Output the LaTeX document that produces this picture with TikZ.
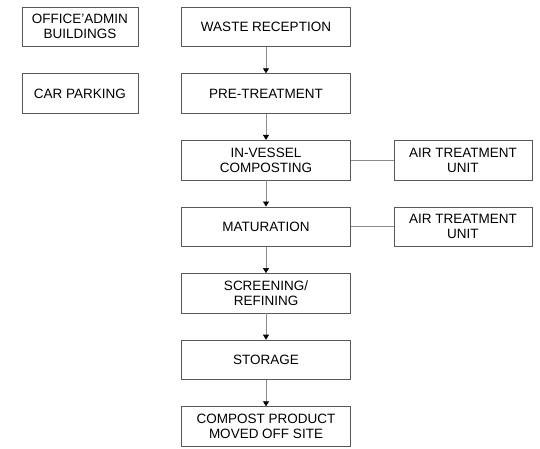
\documentclass[tikz,border=0pt]{standalone}
\usepackage{fontspec}
\setmainfont{Liberation Sans}
\usetikzlibrary{positioning}
\usetikzlibrary{arrows.meta}
\tikzset{
    stage/.style = {rectangle, draw=black!65, semithick, align=center, minimum width=169pt, minimum height=39.6pt, inner sep=0pt},
    sidebox/.style = {rectangle, draw=black!65, semithick, align=center, minimum width=116pt, minimum height=39.6pt, inner sep=0pt},
    airbox/.style = {rectangle, draw=black!65, semithick, align=center, minimum width=138pt, minimum height=39.6pt, inner sep=0pt},
    edgen/.style = {-{Triangle[black,length=5pt,width=6pt]}, draw=black!45, semithick}, % flow
    edgel/.style = {draw=black!45, semithick} % link
}
\begin{document}
\begin{tikzpicture}[
    node distance=26.4pt,
    font=\fontsize{13.5}{15}\selectfont]
  \useasboundingbox (0,0) rectangle (540pt,-448pt);

  \node[stage] (waste) at (266pt,-26.8pt) {WASTE RECEPTION};
  \node[stage, below=of waste] (pretreat) {PRE-TREATMENT};
  \node[stage, below=of pretreat] (vessel) {IN-VESSEL\\COMPOSTING};
  \node[stage, below=of vessel] (matur) {MATURATION};
  \node[stage, below=of matur] (screen) {SCREENING/\\REFINING};
  \node[stage, below=of screen] (storage) {STORAGE};
  \node[stage, below=of storage] (product) {COMPOST PRODUCT\\MOVED OFF SITE};

  \node[sidebox, left=43pt of waste] (office) {OFFICE'ADMIN\\BUILDINGS};
  \node[sidebox, left=43pt of pretreat] (parking) {CAR PARKING};
  \node[airbox, right=42.8pt of vessel] (airone) {AIR TREATMENT\\UNIT};
  \node[airbox, right=42.8pt of matur] (airtwo) {AIR TREATMENT\\UNIT};

  \draw[edgen] (waste) -- (pretreat);
  \draw[edgen] (pretreat) -- (vessel);
  \draw[edgen] (vessel) -- (matur);
  \draw[edgen] (matur) -- (screen);
  \draw[edgen] (screen) -- (storage);
  \draw[edgen] (storage) -- (product);
  \draw[edgel] (vessel) -- (airone);
  \draw[edgel] (matur) -- (airtwo);
\end{tikzpicture}
\end{document}
